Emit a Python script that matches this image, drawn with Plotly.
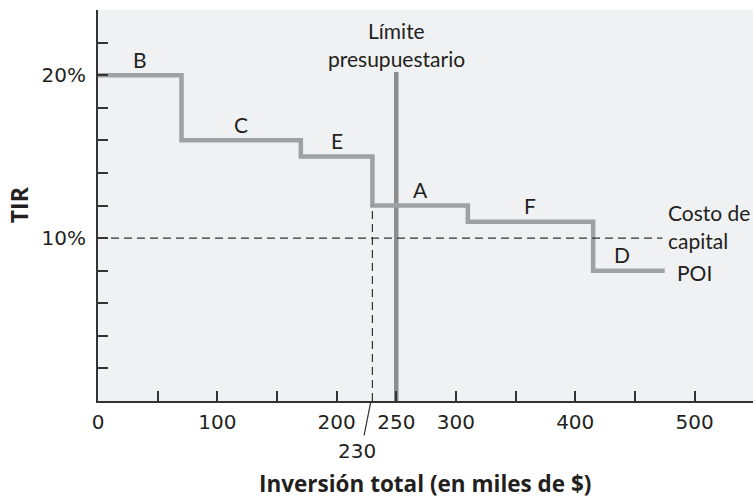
import plotly.graph_objects as go

# Data
projects = ["B", "C", "E", "A", "F", "D"]
cum_investment = [0, 70, 170, 230, 310, 415, 475]   # cumulative investment breakpoints (miles de $)
irr = [20, 16, 15, 12, 11, 8]                          # TIR (%) per project
budget_limit = 250
budget_top = 20.2
cost_of_capital = 10
cost_line_end = 473
x_tick_vals = [0, 50, 100, 150, 200, 250, 300, 350, 400, 450, 500]
x_tick_text = ["0", "", "100", "", "200", "250", "300", "", "400", "", "500"]
y_tick_vals = [2, 4, 6, 8, 10, 12, 14, 16, 18, 20, 22]
y_tick_text = ["", "", "", "", "10%", "", "", "", "", "20%", ""]

FONT = "Lato"
NUMFONT = "DejaVu Sans"
BOLDFONT = "Open Sans"
TXT = "#231f20"
fig = go.Figure()

# Budget limit vertical line
fig.add_trace(go.Scatter(x=[budget_limit, budget_limit], y=[0, budget_top], mode="lines",
                         line=dict(color="#8c8d8f", width=4.5), hoverinfo="skip", showlegend=False))

# Step IRR line
fig.add_trace(go.Scatter(x=cum_investment, y=irr + [irr[-1]], mode="lines", line_shape="hv",
                         line=dict(color="#a0a1a3", width=4.5), showlegend=False))

# Cost of capital dashed line
fig.add_shape(type="line", xref="x", yref="y", x0=0, x1=cost_line_end, y0=cost_of_capital, y1=cost_of_capital,
              line=dict(color="#333333", width=1.2, dash="8px,5px"))
# Vertical dashed at 230
fig.add_shape(type="line", xref="x", yref="y", x0=cum_investment[3], x1=cum_investment[3], y0=0, y1=irr[3],
              line=dict(color="#333333", width=1.2, dash="8px,5px"))
# slash under axis
fig.add_shape(type="line", xref="x", yref="paper", x0=cum_investment[3] - 1.5, x1=cum_investment[3] - 7,
              y0=-0.004, y1=-0.088, line=dict(color="#333333", width=1.2))


def label(x, y, text, xanchor="center", font=FONT, size=21, **kw):
    fig.add_annotation(x=x, y=y, text=text, showarrow=False, xanchor=xanchor, yanchor="middle",
                       font=dict(family=font, size=size, color=TXT), **kw)


# Project labels
label_shift = [0, 0, 0, 0, 0, -6]
for i, p in enumerate(projects):
    mid = (cum_investment[i] + cum_investment[i + 1]) / 2 + label_shift[i]
    label(mid, irr[i], p, yshift=16)

label(cum_investment[3] - 12.5, -0.127, "230", font=NUMFONT, size=20, yref="paper")

label(budget_limit, 22.75, "Límite")
label(budget_limit, 21.05, "presupuestario")
label(476, 11.55, "Costo de", xanchor="left")
label(476, 9.85, "capital", xanchor="left")
label(484, 7.9, "POI", xanchor="left")

# Axis titles
label(0.5, -(483 - 400.5) / 390.5, "<b>Inversión total (en miles de $)</b>", font=BOLDFONT, size=22.5,
      xref="paper", yref="paper")
label(-(98 - 19) / 655, (400.5 - 205) / 390.5, "<b>TIR</b>", font=BOLDFONT, size=23,
      xref="paper", yref="paper", textangle=-90)

fig.update_layout(
    width=753, height=498,
    margin=dict(l=98, r=0, t=10, b=97),
    paper_bgcolor="white", plot_bgcolor="#f0f1f3",
    showlegend=False,
    xaxis=dict(range=[0, 549], showgrid=False, zeroline=False, showline=True, linecolor="#333333", linewidth=2,
               ticks="inside", ticklen=10, tickwidth=1.5, tickcolor="#333333",
               tickvals=x_tick_vals, ticktext=x_tick_text, ticklabelstandoff=2,
               tickfont=dict(family=NUMFONT, size=20, color=TXT), fixedrange=True),
    yaxis=dict(range=[0, 24], showgrid=False, zeroline=False, showline=True, linecolor="#333333", linewidth=2,
               ticks="inside", ticklen=10, tickwidth=1.5, tickcolor="#333333",
               tickvals=y_tick_vals, ticktext=y_tick_text, ticklabelstandoff=6,
               tickfont=dict(family=NUMFONT, size=20, color=TXT), fixedrange=True),
)

fig.write_html("out.html", config={"displayModeBar": False},
               post_script="document.body.style.margin='0';document.body.style.overflow='hidden';")
